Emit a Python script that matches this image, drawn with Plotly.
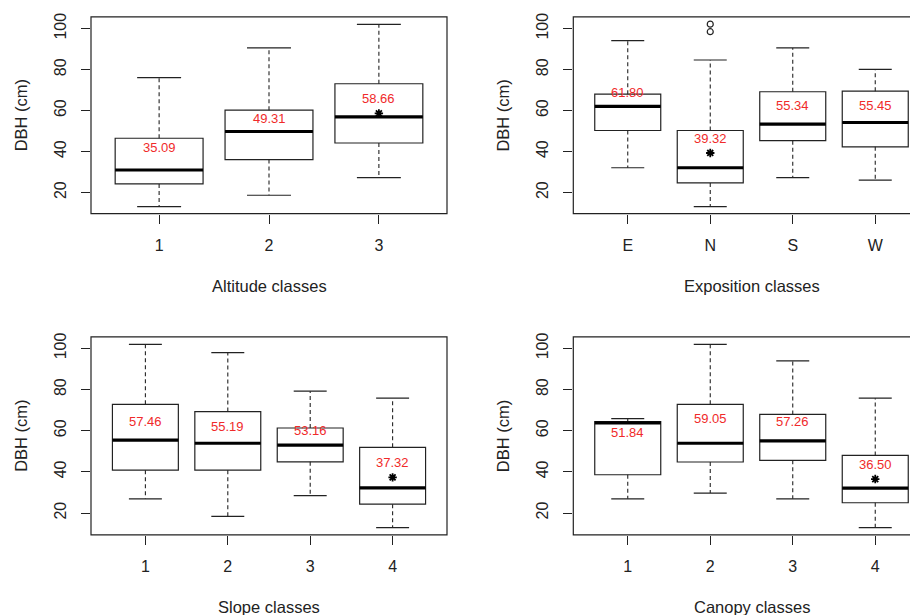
import plotly.graph_objects as go

# ---------------- data ----------------
alt_cats = ["1", "2", "3"]
alt_lower = [13.1, 18.7, 27.3]
alt_q1 = [24.2, 36.1, 44.2]
alt_median = [31.0, 49.8, 56.9]
alt_q3 = [46.5, 60.2, 73.1]
alt_upper = [76.1, 90.6, 102.1]
alt_mean = [35.09, 49.31, 58.66]
alt_mean_label = ["35.09", "49.31", "58.66"]
alt_signif = [False, False, True]
alt_out_x = []
alt_out_y = []

exp_cats = ["E", "N", "S", "W"]
exp_lower = [32.1, 13.1, 27.3, 26.1]
exp_q1 = [50.3, 24.7, 45.3, 42.3]
exp_median = [62.1, 32.1, 53.4, 54.2]
exp_q3 = [68.0, 50.3, 69.2, 69.5]
exp_upper = [94.2, 84.7, 90.6, 80.1]
exp_mean = [61.80, 39.32, 55.34, 55.45]
exp_mean_label = ["61.80", "39.32", "55.34", "55.45"]
exp_signif = [False, True, False, False]
exp_out_x = ["N", "N"]
exp_out_y = [98.5, 102.2]

slo_cats = ["1", "2", "3", "4"]
slo_lower = [26.9, 18.4, 28.5, 12.9]
slo_q1 = [40.8, 40.8, 44.9, 24.3]
slo_median = [55.4, 53.9, 53.0, 32.2]
slo_q3 = [72.8, 69.3, 61.3, 51.9]
slo_upper = [101.9, 97.9, 79.2, 75.8]
slo_mean = [57.46, 55.19, 53.16, 37.32]
slo_mean_label = ["57.46", "55.19", "53.16", "37.32"]
slo_signif = [False, False, False, True]
slo_out_x = []
slo_out_y = []

can_cats = ["1", "2", "3", "4"]
can_lower = [26.9, 29.7, 26.9, 12.9]
can_q1 = [38.6, 44.8, 45.6, 25.0]
can_median = [63.8, 53.9, 55.1, 32.1]
can_q3 = [64.4, 72.8, 67.9, 48.0]
can_upper = [65.9, 101.9, 93.9, 75.8]
can_mean = [51.84, 59.05, 57.26, 36.50]
can_mean_label = ["51.84", "59.05", "57.26", "36.50"]
can_signif = [False, False, False, True]
can_out_x = []
can_out_y = []

x_titles = ["Altitude classes", "Exposition classes", "Slope classes", "Canopy classes"]
y_title = "DBH (cm)"
y_ticks = [20, 40, 60, 80, 100]

# ---------------- styling ----------------
WIN_W, WIN_H = 918, 615
OFF = 8                     # default page body margin
W, H = WIN_W - OFF, WIN_H - OFF
FONT = "Liberation Sans, Arial, sans-serif"
INK = "#222222"
RED = "#f02a2a"

panels = [
    dict(cats=alt_cats, lo=alt_lower, q1=alt_q1, med=alt_median, q3=alt_q3, hi=alt_upper,
         mean=alt_mean, lab=alt_mean_label, sig=alt_signif, ox=alt_out_x, oy=alt_out_y,
         frame=(91, 447, 13, 211), yr=(9.7, 105.7), cut=False),
    dict(cats=exp_cats, lo=exp_lower, q1=exp_q1, med=exp_median, q3=exp_q3, hi=exp_upper,
         mean=exp_mean, lab=exp_mean_label, sig=exp_signif, ox=exp_out_x, oy=exp_out_y,
         frame=(573.3, 929.7, 13, 211), yr=(9.7, 105.7), cut=True),
    dict(cats=slo_cats, lo=slo_lower, q1=slo_q1, med=slo_median, q3=slo_q3, hi=slo_upper,
         mean=slo_mean, lab=slo_mean_label, sig=slo_signif, ox=slo_out_x, oy=slo_out_y,
         frame=(91, 447, 335, 534.3), yr=(9.4, 105.6), cut=False),
    dict(cats=can_cats, lo=can_lower, q1=can_q1, med=can_median, q3=can_q3, hi=can_upper,
         mean=can_mean, lab=can_mean_label, sig=can_signif, ox=can_out_x, oy=can_out_y,
         frame=(573.3, 929.7, 335, 534.3), yr=(9.4, 105.6), cut=True),
]


def px_x(v):
    return (v - OFF) / W


def px_y(v):
    return 1 - (v - OFF) / H


fig = go.Figure()
shapes = []
annotations = []
layout = {}

for k, p in enumerate(panels):
    n = len(p["cats"])
    xs = list(range(1, n + 1))
    pos = {c: i for c, i in zip(p["cats"], xs)}
    sfx = "" if k == 0 else str(k + 1)
    xa, ya = "x" + sfx, "y" + sfx
    x0px, x1px, y0px, y1px = p["frame"]
    # x range in R style: 0.5..n+0.5 extended by 4%
    xr0 = 0.5 - 0.04 * n
    xr1 = n + 0.5 + 0.04 * n
    ppu = (x1px - x0px) / (xr1 - xr0)
    if p["cut"]:
        xr1 = xr0 + (WIN_W - x0px) / ppu
        dom_x = [px_x(x0px), 1.0]
    else:
        dom_x = [px_x(x0px), px_x(x1px)]
    dom_y = [px_y(y1px), px_y(y0px)]

    layout["xaxis" + sfx] = dict(
        domain=dom_x, range=[xr0, xr1], anchor=ya, tickmode="array",
        tickvals=xs, ticktext=p["cats"], ticks="outside", ticklen=9,
        tickcolor=INK, tickwidth=1, showgrid=False, zeroline=False, showline=False,
        tickfont=dict(family=FONT, size=16, color=INK), ticklabelstandoff=8,
        fixedrange=True)
    layout["yaxis" + sfx] = dict(
        domain=dom_y, range=list(p["yr"]), anchor=xa, tickmode="array",
        tickvals=y_ticks, ticks="outside", ticklen=9, tickcolor=INK, tickwidth=1,
        tickangle=-90, showgrid=False, zeroline=False, showline=False,
        tickfont=dict(family=FONT, size=16, color=INK), ticklabelstandoff=9,
        fixedrange=True)

    # boxes
    fig.add_trace(go.Box(
        x=xs, q1=p["q1"], median=p["med"], q3=p["q3"],
        lowerfence=p["q1"], upperfence=p["q3"], width=0.8, whiskerwidth=0,
        fillcolor="rgba(0,0,0,0)", line=dict(color=INK, width=1.2),
        boxpoints=False, xaxis=xa, yaxis=ya, hoverinfo="skip"))

    # dashed whiskers
    wx, wy = [], []
    for i, lo, q1, q3, hi in zip(xs, p["lo"], p["q1"], p["q3"], p["hi"]):
        wx += [i, i, None, i, i, None]
        wy += [q3, hi, None, q1, lo, None]
    fig.add_trace(go.Scatter(x=wx, y=wy, mode="lines", xaxis=xa, yaxis=ya,
                             line=dict(color=INK, width=1.1, dash="4px,3px"),
                             hoverinfo="skip"))
    # staples
    sx, sy = [], []
    for i, lo, hi in zip(xs, p["lo"], p["hi"]):
        sx += [i - 0.2, i + 0.2, None, i - 0.2, i + 0.2, None]
        sy += [hi, hi, None, lo, lo, None]
    fig.add_trace(go.Scatter(x=sx, y=sy, mode="lines", xaxis=xa, yaxis=ya,
                             line=dict(color=INK, width=1.2), hoverinfo="skip"))
    # thick medians
    mx, my = [], []
    for i, m in zip(xs, p["med"]):
        mx += [i - 0.4, i + 0.4, None]
        my += [m, m, None]
    fig.add_trace(go.Scatter(x=mx, y=my, mode="lines", xaxis=xa, yaxis=ya,
                             line=dict(color="black", width=3.2), hoverinfo="skip"))
    # outliers
    if p["ox"]:
        fig.add_trace(go.Scatter(x=[pos[c] for c in p["ox"]], y=p["oy"], mode="markers",
                                 xaxis=xa, yaxis=ya, hoverinfo="skip",
                                 marker=dict(symbol="circle-open", size=6,
                                             color=INK, line=dict(width=1.2))))
    # significant means
    ax_ = [i for i, s in zip(xs, p["sig"]) if s]
    ay_ = [m for m, s in zip(p["mean"], p["sig"]) if s]
    if ax_:
        fig.add_trace(go.Scatter(x=ax_, y=ay_, mode="markers", xaxis=xa, yaxis=ya,
                                 hoverinfo="skip",
                                 marker=dict(symbol="asterisk-open", size=7,
                                             color="black", line=dict(width=1.8, color="black"))))
    # mean labels
    for i, m, t in zip(xs, p["mean"], p["lab"]):
        annotations.append(dict(x=i, y=m, xref=xa, yref=ya, text=t, showarrow=False,
                                yshift=14.5, font=dict(family=FONT, size=13, color=RED)))

    # frame
    xd, yd = xa + " domain", ya + " domain"
    if p["cut"]:
        shapes.append(dict(type="path", xref=xd, yref=yd,
                           path="M 1.02,1 L 0,1 L 0,0 L 1.02,0",
                           line=dict(color=INK, width=1.2)))
    else:
        shapes.append(dict(type="rect", xref=xd, yref=yd, x0=0, x1=1, y0=0, y1=1,
                           line=dict(color=INK, width=1.2)))

    # axis titles
    cx_px = (x0px + x1px) / 2
    cy_px = (y0px + y1px) / 2
    title_y_px = y1px + 72.5
    annotations.append(dict(x=px_x(cx_px), y=px_y(title_y_px), xref="paper", yref="paper",
                            text=x_titles[k], showarrow=False, xanchor="center",
                            yanchor="middle", font=dict(family=FONT, size=16.5, color=INK)))
    annotations.append(dict(x=px_x(x0px - 70), y=px_y(cy_px), xref="paper", yref="paper",
                            text=y_title, showarrow=False, textangle=-90, xanchor="center",
                            yanchor="middle", font=dict(family=FONT, size=16.5, color=INK)))

fig.update_layout(
    width=W, height=H, margin=dict(l=0, r=0, t=0, b=0),
    paper_bgcolor="white", plot_bgcolor="white", showlegend=False,
    shapes=shapes, annotations=annotations, **layout)

fig.write_html("out.html", config=dict(displayModeBar=False))
